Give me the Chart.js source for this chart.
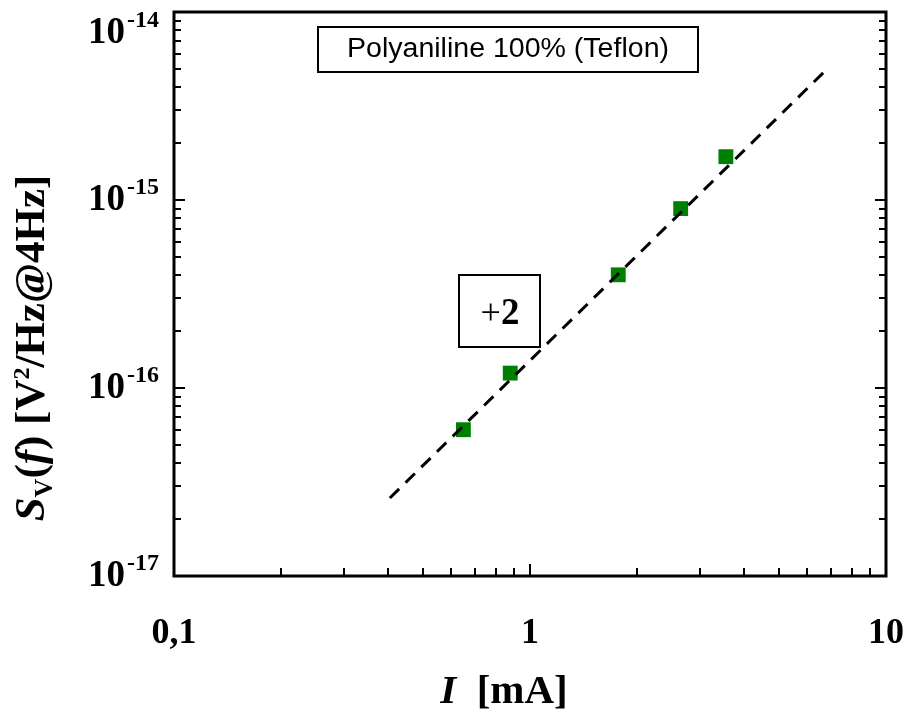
<!DOCTYPE html>
<html>
<head>
<meta charset="utf-8">
<script src="https://cdn.jsdelivr.net/npm/chart.js@4/dist/chart.umd.min.js"></script>
<style>
  html, body { margin: 0; padding: 0; background: #fff; }
</style>
</head>
<body>
<canvas id="myChart" width="905" height="710"></canvas>
<script>
// Dados
var corrente = [0.65, 0.88, 1.77, 2.65, 3.55];            // I [mA]
var ruido = [6.0e-17, 1.2e-16, 4.0e-16, 9.0e-16, 1.7e-15]; // Sv(f) [V2/Hz@4Hz]
var ajusteX = [0.404, 6.7];                               // reta tracejada
var ajusteY = [2.6e-17, 4.8e-15];

var xTicks = [0.1, 1, 10];
var xTickLabels = ['0,1', '1', '10'];
var yTicks = [1e-17, 1e-16, 1e-15, 1e-14];
var yTickExp = ['-17', '-16', '-15', '-14'];

var legendText = 'Polyaniline 100% (Teflon)';
var slopeText = '+2';

var serif = '"Liberation Serif", "Times New Roman", serif';
var sans = '"Liberation Sans", Arial, sans-serif';

// Ticks menores (2..9 por década)
function minorTicks(majors) {
  var out = [];
  for (var i = 0; i < majors.length - 1; i++) {
    for (var k = 2; k <= 9; k++) out.push(majors[i] * k);
  }
  return out;
}

var pontos = corrente.map(function (c, i) { return { x: c, y: ruido[i] }; });
var reta = ajusteX.map(function (c, i) { return { x: c, y: ajusteY[i] }; });

// Desenha texto com partes de fontes diferentes
function drawParts(ctx, parts, x, y, align) {
  var total = 0;
  parts.forEach(function (p) { ctx.font = p.f; total += ctx.measureText(p.t).width; });
  var cx = align === 'center' ? x - total / 2 : x;
  ctx.textAlign = 'left';
  ctx.textBaseline = 'alphabetic';
  parts.forEach(function (p) {
    ctx.font = p.f;
    ctx.fillText(p.t, cx, y + (p.dy || 0));
    cx += ctx.measureText(p.t).width;
  });
}

var molduraPlugin = {
  id: 'moldura',
  afterDraw: function (chart) {
    var ctx = chart.ctx;
    var a = chart.chartArea;
    var xs = chart.scales.x, ys = chart.scales.y;
    ctx.save();
    ctx.fillStyle = '#000';
    ctx.strokeStyle = '#000';

    // ticks para dentro
    ctx.lineWidth = 2;
    ctx.beginPath();
    minorTicks(xTicks).forEach(function (v) {
      var px = Math.round(xs.getPixelForValue(v));
      ctx.moveTo(px, a.bottom); ctx.lineTo(px, a.bottom - 8);
    });
    xTicks.forEach(function (v) {
      var px = Math.round(xs.getPixelForValue(v));
      ctx.moveTo(px, a.bottom); ctx.lineTo(px, a.bottom - 12);
    });
    minorTicks(yTicks).forEach(function (v) {
      var py = Math.round(ys.getPixelForValue(v));
      ctx.moveTo(a.left, py); ctx.lineTo(a.left + 7, py);
      ctx.moveTo(a.right, py); ctx.lineTo(a.right - 7, py);
    });
    yTicks.forEach(function (v) {
      var py = Math.round(ys.getPixelForValue(v));
      ctx.moveTo(a.left, py); ctx.lineTo(a.left + 11, py);
      ctx.moveTo(a.right, py); ctx.lineTo(a.right - 11, py);
    });
    ctx.stroke();

    // moldura
    ctx.lineWidth = 3;
    ctx.strokeRect(a.left, a.top, a.right - a.left, a.bottom - a.top);

    // rótulos eixo x
    ctx.font = 'bold 36px ' + serif;
    ctx.textAlign = 'center';
    ctx.textBaseline = 'alphabetic';
    xTicks.forEach(function (v, i) {
      ctx.fillText(xTickLabels[i], xs.getPixelForValue(v), 643);
    });

    // rótulos eixo y (10^n)
    yTicks.forEach(function (v, i) {
      var py = ys.getPixelForValue(v);
      var base = Math.max(py + 10, 43);
      ctx.font = 'bold 24px ' + serif;
      var wExp = ctx.measureText(yTickExp[i]).width;
      ctx.textAlign = 'right';
      ctx.fillText(yTickExp[i], a.left - 15, base - 16);
      ctx.font = 'bold 37px ' + serif;
      ctx.fillText('10', a.left - 17 - wExp, base);
    });

    // título eixo x
    drawParts(ctx, [
      { t: 'I', f: 'italic bold 41px ' + serif },
      { t: '  [mA]', f: 'bold 41px ' + serif }
    ], 504, 703, 'center');

    // título eixo y
    ctx.save();
    ctx.translate(30, 348);
    ctx.rotate(-Math.PI / 2);
    drawParts(ctx, [
      { t: 'S', f: 'italic bold 43px ' + serif },
      { t: 'V', f: 'bold 26px ' + serif, dy: 8 },
      { t: '(', f: 'bold 43px ' + serif },
      { t: 'f', f: 'italic bold 43px ' + serif },
      { t: ') [V', f: 'bold 43px ' + serif },
      { t: '2', f: 'bold 24px ' + serif, dy: -15 },
      { t: '/Hz@4Hz]', f: 'bold 43px ' + serif }
    ], 0, 14, 'center');
    ctx.restore();

    // caixa da legenda
    ctx.lineWidth = 2;
    ctx.fillStyle = '#fff';
    ctx.fillRect(318, 27, 380, 45);
    ctx.strokeRect(318, 27, 380, 45);
    ctx.fillStyle = '#000';
    ctx.font = '27px ' + sans;
    var wLeg = ctx.measureText(legendText).width;
    ctx.save();
    ctx.translate(508, 50);
    ctx.scale(Math.min(1.08, 322 / wLeg), 1);
    ctx.textAlign = 'center';
    ctx.textBaseline = 'middle';
    ctx.fillText(legendText, 0, 0);
    ctx.restore();

    // caixa da inclinação
    ctx.strokeRect(459, 275, 81, 72);
    drawParts(ctx, [
      { t: slopeText.charAt(0), f: '36px ' + serif },
      { t: slopeText.slice(1), f: 'bold 37px ' + serif }
    ], 500, 324, 'center');

    ctx.restore();
  }
};

var ctx = document.getElementById('myChart');
var grafico = new Chart(ctx, {
  type: 'scatter',
  data: {
    datasets: [
      {
        type: 'line',
        label: 'ajuste',
        data: reta,
        borderColor: '#000',
        borderWidth: 3,
        borderDash: [13, 9],
        pointRadius: 0,
        fill: false,
        order: 0
      },
      {
        label: legendText,
        data: pontos,
        pointStyle: 'rect',
        pointRadius: 10.5,
        pointBackgroundColor: '#008000',
        pointBorderWidth: 0,
        order: 1
      }
    ]
  },
  options: {
    responsive: false,
    animation: false,
    devicePixelRatio: 1,
    layout: { padding: { left: 0, right: 19, top: 12, bottom: 0 } },
    plugins: { legend: { display: false }, tooltip: { enabled: false } },
    scales: {
      x: {
        type: 'logarithmic',
        min: 0.1, max: 10,
        grid: { display: false },
        border: { display: false },
        ticks: { display: false },
        afterFit: function (s) { s.height = 134; }
      },
      y: {
        type: 'logarithmic',
        min: 1e-17, max: 1e-14,
        grid: { display: false },
        border: { display: false },
        ticks: { display: false },
        afterFit: function (s) { s.width = 174; }
      }
    }
  },
  plugins: [molduraPlugin]
});
</script>
</body>
</html>
